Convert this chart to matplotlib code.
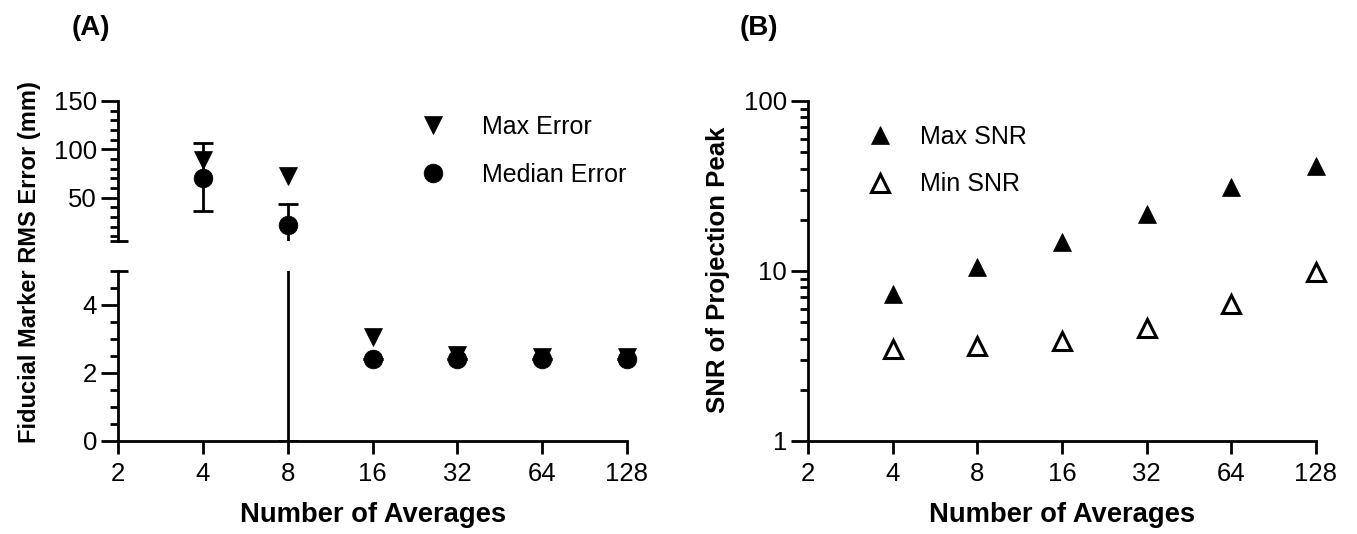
import matplotlib
matplotlib.use('Agg')
import matplotlib.pyplot as plt
import numpy as np
from matplotlib.ticker import FixedLocator, NullFormatter, LogLocator, NullLocator

plt.rcParams['font.family'] = ['Liberation Sans', 'DejaVu Sans']

# ---------------- data ----------------
averages = [4, 8, 16, 32, 64, 128]
x_ticks = [2, 4, 8, 16, 32, 64, 128]
x_tick_labels = ['2', '4', '8', '16', '32', '64', '128']

max_error = [89, 72, 3.05, 2.53, 2.48, 2.46]
median_error = [70, 22, 2.40, 2.40, 2.40, 2.40]
median_low = [36, 0, 2.40, 2.40, 2.40, 2.40]
median_high = [107, 43, 2.40, 2.40, 2.40, 2.40]

max_snr = [7.3, 10.6, 14.8, 21.5, 31.2, 41.5]
min_snr = [3.5, 3.6, 3.9, 4.6, 6.4, 9.8]

# ---------------- figure ----------------
W, H = 1357, 534
fig = plt.figure(figsize=(W / 100, H / 100), dpi=100)


def px(l, t, r, b):
    return [l / W, 1 - b / H, (r - l) / W, (b - t) / H]


axA_top = fig.add_axes(px(118, 101, 627, 241))
axA_bot = fig.add_axes(px(118, 271, 627, 441))
axB = fig.add_axes(px(808, 101, 1316, 441))

LW = 2.0
FS = 18.5
for ax in (axA_top, axA_bot, axB):
    for s in ('top', 'right'):
        ax.spines[s].set_visible(False)
    for s in ('left', 'bottom'):
        ax.spines[s].set_linewidth(LW)
    ax.set_xscale('log', base=2)
    ax.set_xlim(2, 128)
    ax.tick_params(axis='y', which='major', length=12, width=LW, pad=3, labelsize=FS)
    ax.tick_params(axis='y', which='minor', length=6, width=LW)
    ax.tick_params(axis='x', which='major', length=9, width=LW, pad=6, labelsize=FS)
    ax.xaxis.set_minor_locator(NullLocator())

x = np.array(averages, dtype=float)
mx = np.array(max_error)
md = np.array(median_error)
lo = np.array(median_low)
hi = np.array(median_high)
yerr = np.vstack([md - lo, hi - md])

# --- Panel A top segment ---
axA_top.spines['bottom'].set_visible(False)
axA_top.set_ylim(5, 150)
axA_top.set_xticks([])
axA_top.yaxis.set_major_locator(FixedLocator([50, 100, 150]))
axA_top.set_yticklabels(['50', '100', '150'])
axA_top.yaxis.set_minor_locator(FixedLocator([v for v in range(10, 150, 10) if v % 50]))
axA_top.axhline(5, xmin=-0.016, xmax=0.02, color='black', lw=LW, clip_on=False,
                solid_capstyle='butt')

big = md > 5
axA_top.errorbar(x, md, yerr=yerr, fmt='none', ecolor='black', elinewidth=LW,
                 capsize=7, capthick=LW)
h_max, = axA_top.plot(x[mx > 5], mx[mx > 5], linestyle='none', marker='v', ms=13,
                      color='black', mew=0.5, label='Max Error', clip_on=False)
h_med, = axA_top.plot(x[big], md[big], linestyle='none', marker='o', ms=13.5,
                      color='black', mew=0.5, label='Median Error', clip_on=False)
axA_top.legend(handles=[h_max, h_med], loc='center left', frameon=False,
               bbox_to_anchor=((433 - 12.5) / W, 1 - 151 / H),
               bbox_transform=fig.transFigure, borderpad=0, borderaxespad=0,
               handlelength=1.0, handletextpad=1.46, labelspacing=0.95,
               fontsize=18)

# --- Panel A bottom segment ---
axA_bot.set_ylim(0, 5)
axA_bot.yaxis.set_major_locator(FixedLocator([0, 2, 4]))
axA_bot.set_yticklabels(['0', '2', '4'])
axA_bot.yaxis.set_minor_locator(FixedLocator(np.arange(0.5, 5.0, 0.5)))
axA_bot.axhline(5, xmin=-0.016, xmax=0.02, color='black', lw=LW, clip_on=False,
                solid_capstyle='butt')
axA_bot.set_xticks(x_ticks)
axA_bot.set_xticklabels(x_tick_labels)
axA_bot.errorbar(x, md, yerr=yerr, fmt='none', ecolor='black', elinewidth=LW,
                 capsize=7, capthick=LW)
small_mx = mx <= 5
small_md = md <= 5
axA_bot.plot(x[small_mx], mx[small_mx], linestyle='none', marker='v', ms=13,
             color='black', mew=0.5, clip_on=False)
axA_bot.plot(x[small_md], md[small_md], linestyle='none', marker='o', ms=13.5,
             color='black', mew=0.5, clip_on=False)

# --- Panel B ---
axB.set_yscale('log')
axB.set_ylim(1, 100)
axB.yaxis.set_major_locator(FixedLocator([1, 10, 100]))
axB.set_yticklabels(['1', '10', '100'])
axB.yaxis.set_minor_locator(LogLocator(base=10, subs=np.arange(2, 10)))
axB.yaxis.set_minor_formatter(NullFormatter())
axB.set_xticks(x_ticks)
axB.set_xticklabels(x_tick_labels)
h_smax, = axB.plot(averages, max_snr, linestyle='none', marker='^', ms=13.5,
                   color='black', mew=0.5, label='Max SNR', clip_on=False)
h_smin, = axB.plot(averages, min_snr, linestyle='none', marker='^', ms=13,
                   markerfacecolor='white', markeredgecolor='black', mew=2.2,
                   label='Min SNR', clip_on=False)
axB.legend(handles=[h_smax, h_smin], loc='center left', frameon=False,
           bbox_to_anchor=((880 - 12.5) / W, 1 - 160.5 / H),
           bbox_transform=fig.transFigure, borderpad=0, borderaxespad=0,
           handlelength=1.0, handletextpad=1.1, labelspacing=0.95, fontsize=18)

# --- labels ---
fig.text(30 / W, 1 - 262 / H, 'Fiducial Marker RMS Error (mm)', rotation=90,
         ha='center', va='center', fontsize=17, fontweight='bold')
fig.text(718 / W, 1 - 270 / H, 'SNR of Projection Peak', rotation=90,
         ha='center', va='center', fontsize=18.5, fontweight='bold')
fig.text(373 / W, 1 - 522 / H, 'Number of Averages', ha='center', va='baseline',
         fontsize=19.7, fontweight='bold')
fig.text(1062 / W, 1 - 522 / H, 'Number of Averages', ha='center', va='baseline',
         fontsize=19.7, fontweight='bold')
fig.text(72 / W, 1 - 35 / H, '(A)', ha='left', va='baseline', fontsize=20,
         fontweight='bold')
fig.text(740 / W, 1 - 35 / H, '(B)', ha='left', va='baseline', fontsize=20,
         fontweight='bold')

fig.savefig('out.png', dpi=100)
